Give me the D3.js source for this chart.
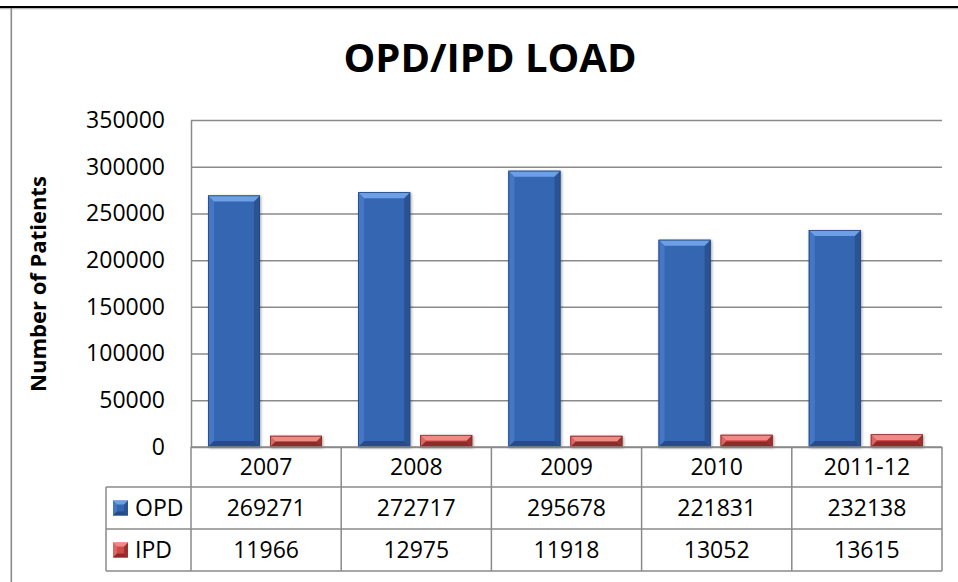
<!DOCTYPE html>
<html lang="en">
<head>
<meta charset="UTF-8"/>
<title>OPD/IPD LOAD</title>
<script src="https://d3js.org/d3.v7.min.js"></script>
<style>
  body{margin:0;background:#fff;}
  svg text{font-family:"Open Sans",sans-serif;fill:#000;}
</style>
</head>
<body>
<div id="chart"></div>
<script>
// Data
var categories = ["2007", "2008", "2009", "2010", "2011-12"];
var seriesNames = ["OPD", "IPD"];
var opdValues = [269271, 272717, 295678, 221831, 232138];
var ipdValues = [11966, 12975, 11918, 13052, 13615];
var yTicks = [0, 50000, 100000, 150000, 200000, 250000, 300000, 350000];

// Layout
var w = 958, h = 582;
var plotLeft = 191, plotRight = 942, plotTop = 120, plotBottom = 447;
var tableLeft = 106;
var rowLines = [447, 487, 529, 571];
var gridColor = "#8a8a8a";
var fontSize = 23;

// bevel colours per series
var palette = {
  OPD: {face: "#3566b2", top: "#6c9fe6", left: "#4577c4", right: "#2a5394", bottom: "#264b86", edge: "#24487f"},
  IPD: {face: "#cd4b48", top: "#ef8a87", left: "#dc6663", right: "#9c302e", bottom: "#8e2b29", edge: "#83302e"}
};

var series = seriesNames.map(function(name, i) {
  return {name: name, values: [opdValues, ipdValues][i]};
});

var svg = d3.select("#chart")
            .append("svg")
            .attr("width", w)
            .attr("height", h);

var defs = svg.append("defs");
var shadow = defs.append("filter").attr("id", "shadow")
                 .attr("x", "-30%").attr("y", "-30%").attr("width", "160%").attr("height", "160%");
shadow.append("feDropShadow")
      .attr("dx", 1).attr("dy", 1)
      .attr("stdDeviation", 1.6)
      .attr("flood-color", "#000")
      .attr("flood-opacity", 0.35);

// frame lines
svg.append("rect").attr("x", 0).attr("y", 6).attr("width", w).attr("height", 2.2).attr("fill", "#000");
svg.append("rect").attr("x", 0).attr("y", 8.2).attr("width", w).attr("height", 1).attr("fill", "#b5b5b5");
svg.append("rect").attr("x", 10.5).attr("y", 8).attr("width", 1.6).attr("height", h - 8).attr("fill", "#8a8a8a");

// scales
var x0 = d3.scaleBand()
           .domain(categories)
           .range([plotLeft, plotRight]);

var x1 = d3.scaleBand()
           .domain(seriesNames)
           .range([17, 131])
           .paddingInner(10 / 62);

var y = d3.scaleLinear()
          .domain([0, 350000])
          .range([plotBottom, plotTop]);

// gridlines
var grid = svg.append("g")
              .attr("transform", "translate(" + plotLeft + ",0)")
              .call(d3.axisLeft(y).tickValues(yTicks).tickSize(-(plotRight - plotLeft)).tickFormat(""));
grid.select(".domain").remove();
grid.selectAll("line").attr("stroke", gridColor).attr("stroke-width", 1.5);

// y axis
var yAxis = svg.append("g")
               .attr("transform", "translate(" + plotLeft + ",0)")
               .call(d3.axisLeft(y).tickValues(yTicks).tickFormat(d3.format("d"))
                       .tickSize(0).tickSizeOuter(0).tickPadding(26));
yAxis.select(".domain").attr("stroke", gridColor).attr("stroke-width", 1.5);
yAxis.selectAll("text")
     .style("font-family", "'Open Sans', sans-serif")
     .attr("font-size", fontSize)
     .attr("fill", "#000");

// bars
var cells = [];
categories.forEach(function(c, i) {
  series.forEach(function(s) {
    cells.push({cat: c, name: s.name, value: s.values[i]});
  });
});

function bevelParts(d) {
  var x = x0(d.cat) + x1(d.name);
  var bw = x1.bandwidth();
  var yt = y(d.value);
  var yb = y(0);
  var b = Math.min(6, (yb - yt) / 2.2);
  var c = palette[d.name];
  return [
    {fill: c.face, pts: [[x, yt], [x + bw, yt], [x + bw, yb], [x, yb]]},
    {fill: c.left, pts: [[x, yt], [x + b, yt + b], [x + b, yb - b], [x, yb]]},
    {fill: c.right, pts: [[x + bw, yt], [x + bw - b, yt + b], [x + bw - b, yb - b], [x + bw, yb]]},
    {fill: c.bottom, pts: [[x, yb], [x + b, yb - b], [x + bw - b, yb - b], [x + bw, yb]]},
    {fill: c.top, pts: [[x, yt], [x + bw, yt], [x + bw - b, yt + b], [x + b, yt + b]]}
  ];
}

var bars = svg.selectAll("g.bar")
              .data(cells)
              .enter()
              .append("g")
              .attr("class", "bar")
              .attr("filter", "url(#shadow)");

bars.selectAll("polygon")
    .data(function(d) { return bevelParts(d); })
    .enter()
    .append("polygon")
    .attr("points", function(p) { return p.pts.map(function(q) { return q.join(","); }).join(" "); })
    .attr("fill", function(p) { return p.fill; });

bars.append("rect")
    .attr("x", function(d) { return x0(d.cat) + x1(d.name) + 0.4; })
    .attr("y", function(d) { return y(d.value) + 0.4; })
    .attr("width", x1.bandwidth() - 0.8)
    .attr("height", function(d) { return y(0) - y(d.value) - 0.8; })
    .attr("fill", "none")
    .attr("stroke", function(d) { return palette[d.name].edge; })
    .attr("stroke-width", 0.8);

// data table
var table = svg.append("g");

table.append("line")
     .attr("x1", plotLeft).attr("x2", plotRight)
     .attr("y1", rowLines[0]).attr("y2", rowLines[0]);
rowLines.slice(1).forEach(function(ry) {
  table.append("line")
       .attr("x1", tableLeft).attr("x2", plotRight)
       .attr("y1", ry).attr("y2", ry);
});
categories.forEach(function(c) {
  table.append("line")
       .attr("x1", x0(c)).attr("x2", x0(c))
       .attr("y1", rowLines[0]).attr("y2", rowLines[3]);
});
table.append("line")
     .attr("x1", plotRight).attr("x2", plotRight)
     .attr("y1", rowLines[0]).attr("y2", rowLines[3]);
table.append("line")
     .attr("x1", tableLeft).attr("x2", tableLeft)
     .attr("y1", rowLines[1]).attr("y2", rowLines[3]);
table.selectAll("line").attr("stroke", gridColor).attr("stroke-width", 1.5);

// header row: categories
table.selectAll("text.cat")
     .data(categories)
     .enter()
     .append("text")
     .attr("class", "cat")
     .attr("x", function(d) { return x0(d) + x0.bandwidth() / 2; })
     .attr("y", (rowLines[0] + rowLines[1]) / 2)
     .attr("dy", "0.36em")
     .attr("text-anchor", "middle")
     .attr("font-size", fontSize)
     .text(function(d) { return d; });

// value rows with legend keys
series.forEach(function(s, si) {
  var cy = (rowLines[si + 1] + rowLines[si + 2]) / 2;
  var c = palette[s.name];
  var kx = 113, ks = 15, ky = cy - ks / 2, kb = 4;
  var key = table.append("g");
  var keyParts = [
    {fill: c.face, pts: [[kx, ky], [kx + ks, ky], [kx + ks, ky + ks], [kx, ky + ks]]},
    {fill: c.left, pts: [[kx, ky], [kx + kb, ky + kb], [kx + kb, ky + ks - kb], [kx, ky + ks]]},
    {fill: c.right, pts: [[kx + ks, ky], [kx + ks - kb, ky + kb], [kx + ks - kb, ky + ks - kb], [kx + ks, ky + ks]]},
    {fill: c.bottom, pts: [[kx, ky + ks], [kx + kb, ky + ks - kb], [kx + ks - kb, ky + ks - kb], [kx + ks, ky + ks]]},
    {fill: c.top, pts: [[kx, ky], [kx + ks, ky], [kx + ks - kb, ky + kb], [kx + kb, ky + kb]]}
  ];
  key.selectAll("polygon")
     .data(keyParts)
     .enter()
     .append("polygon")
     .attr("points", function(p) { return p.pts.map(function(q) { return q.join(","); }).join(" "); })
     .attr("fill", function(p) { return p.fill; });

  table.append("text")
       .attr("x", 135)
       .attr("y", cy)
       .attr("dy", "0.36em")
       .attr("font-size", fontSize)
       .text(s.name);

  table.selectAll("text.v" + si)
       .data(s.values)
       .enter()
       .append("text")
       .attr("class", "v" + si)
       .attr("x", function(d, i) { return x0(categories[i]) + x0.bandwidth() / 2; })
       .attr("y", cy)
       .attr("dy", "0.36em")
       .attr("text-anchor", "middle")
       .attr("font-size", fontSize)
       .text(function(d) { return d; });
});

// titles
svg.append("text")
   .attr("x", 490)
   .attr("y", 72)
   .attr("text-anchor", "middle")
   .attr("font-size", 40)
   .attr("font-weight", "bold")
   .text("OPD/IPD LOAD");

svg.append("text")
   .attr("transform", "translate(46,284) rotate(-90)")
   .attr("text-anchor", "middle")
   .attr("font-size", 22)
   .attr("font-weight", "bold")
   .text("Number of Patients");
</script>
</body>
</html>
